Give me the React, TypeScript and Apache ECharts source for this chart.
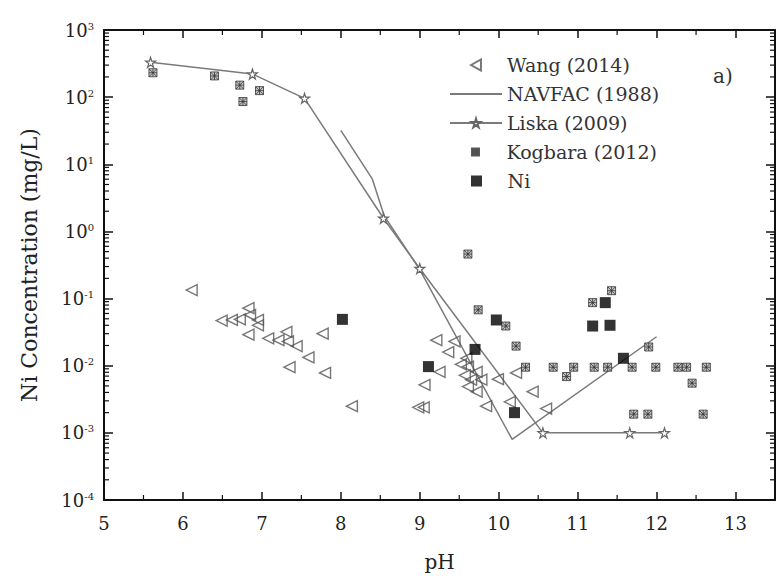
import React, { useEffect, useRef } from "react";
import * as echarts from "echarts";

const wangPH = [6.11, 6.49, 6.62, 6.72, 6.83, 6.85, 6.95, 6.95, 6.83, 7.08, 7.21, 7.31, 7.33, 7.44, 7.59, 7.35, 7.77, 7.8, 8.14, 8.98, 9.05, 9.06, 9.21, 9.25, 9.36, 9.44, 9.59, 9.61, 9.57, 9.72, 9.61, 9.72, 9.78, 9.84, 9.99, 10.14, 10.22, 10.43, 10.6, 9.65, 9.52];
const wangConc = [0.134, 0.047, 0.048, 0.049, 0.072, 0.057, 0.048, 0.04, 0.029, 0.0256, 0.024, 0.032, 0.023, 0.0196, 0.0133, 0.0095, 0.03, 0.0078, 0.0025, 0.0024, 0.0024, 0.0052, 0.024, 0.0081, 0.016, 0.023, 0.0129, 0.0097, 0.0072, 0.0081, 0.0049, 0.0041, 0.0062, 0.0025, 0.0063, 0.0029, 0.0078, 0.0041, 0.0023, 0.0062, 0.0105];

const navfacPH = [8.0, 8.4, 8.55, 9.0, 10.17, 12.0];
const navfacConc = [32, 6, 1.7, 0.27, 0.0008, 0.027];

const liskaPH = [5.59, 6.88, 7.54, 8.54, 9.0, 10.56, 11.66, 12.1];
const liskaConc = [330, 221, 96, 1.57, 0.28, 0.001, 0.001, 0.001];

const kogPH = [5.62, 6.4, 6.72, 6.97, 6.76, 9.61, 9.74, 10.09, 10.22, 10.34, 10.69, 10.95, 10.86, 11.21, 11.38, 11.69, 11.99, 12.27, 12.38, 12.63, 12.45, 11.19, 11.43, 11.9, 11.71, 11.89, 12.59];
const kogConc = [231, 207, 151, 125, 86, 0.46, 0.068, 0.039, 0.0196, 0.0095, 0.0095, 0.0095, 0.0069, 0.0095, 0.0095, 0.0095, 0.0095, 0.0095, 0.0095, 0.0095, 0.0055, 0.087, 0.131, 0.019, 0.0019, 0.0019, 0.0019];

const niPH = [8.02, 9.11, 9.7, 9.97, 10.2, 11.19, 11.41, 11.35, 11.58];
const niConc = [0.049, 0.0097, 0.0175, 0.048, 0.002, 0.039, 0.04, 0.087, 0.0129];

const xMin = 5;
const xMax = 13.5;
const yMin = 1e-4;
const yMax = 1e3;
const xMinorTicks = [5.5, 6.5, 7.5, 8.5, 9.5, 10.5, 11.5, 12.5];
const yDecades = [-4, -3, -2, -1, 0, 1, 2];
const yMinorMult = [2, 3, 4, 5, 6, 7, 8, 9];

const FONT = "DejaVu Serif";
const STAR = "path://M50,0 L61,35 L98,35 L68,57 L79,91 L50,70 L21,91 L32,57 L2,35 L39,35 Z";
const KOG = "path://M0,0 L10,0 L10,10 L0,10 Z M0,0 L10,10 M10,0 L0,10 M5,0 L5,10 M0,5 L10,5";
const TRI_LEFT = "path://M0,5 L9,0 L9,10 Z";
const SQUARE = "path://M0,0 L10,0 L10,10 L0,10 Z";

const zip = (a: number[], b: number[]) => a.map((v, i) => [v, b[i]]);

export default function App() {
  const ref = useRef<HTMLDivElement>(null);
  useEffect(() => {
    if (!ref.current) return;
    const chart = echarts.init(ref.current, null, { renderer: "svg" });
    const minorData: number[][] = [];
    yDecades.forEach((e) => yMinorMult.forEach((m) => minorData.push([xMin, m * Math.pow(10, e), 0])));
    xMinorTicks.forEach((x) => minorData.push([x, 1, 1]));

    const axisLine = { show: true, lineStyle: { color: "#111", width: 2 } };
    const legendBase = {
      orient: "vertical",
      padding: 0,
      itemWidth: 52,
      itemGap: 9,
      textStyle: { fontFamily: FONT, fontSize: 19, color: "#333", lineHeight: 20 },
      selectedMode: false,
    };
    chart.setOption({
      animation: false,
      backgroundColor: "#fff",
      grid: { left: 104, right: 7, top: 30, bottom: 79 },
      legend: [
        {
          ...legendBase,
          left: 449,
          top: 55,
          itemHeight: 11,
          data: [
            { name: "Wang (2014)", icon: TRI_LEFT },
            { name: "NAVFAC (1988)", itemStyle: { opacity: 0 } },
            { name: "Liska (2009)" },
          ],
        },
        {
          ...legendBase,
          left: 471,
          top: 142,
          itemHeight: 7,
          data: [{ name: "Kogbara (2012)", icon: KOG }],
        },
        {
          ...legendBase,
          left: 471,
          top: 171,
          itemHeight: 11,
          data: [{ name: "Ni", icon: SQUARE }],
        },
      ],
      xAxis: [
        {
          type: "value",
          min: xMin,
          max: xMax,
          interval: 1,
          name: "pH",
          nameLocation: "middle",
          nameGap: 52,
          nameTextStyle: { fontFamily: FONT, fontSize: 20, color: "#222" },
          axisLine,
          axisTick: { show: true, inside: true, length: 8, lineStyle: { color: "#111", width: 1.5 } },
          axisLabel: {
            fontFamily: FONT,
            fontSize: 18,
            color: "#222",
            margin: 14,
            formatter: (v: number) => (Math.abs(v - Math.round(v)) < 1e-6 ? String(v) : ""),
          },
          splitLine: { show: false },
        },
        {
          type: "value",
          position: "top",
          min: xMin,
          max: xMax,
          interval: 1,
          axisLine,
          axisTick: { show: true, inside: true, length: 8, lineStyle: { color: "#111", width: 1.5 } },
          axisLabel: { show: false },
          splitLine: { show: false },
        },
      ],
      yAxis: [
        {
          type: "log",
          logBase: 10,
          min: yMin,
          max: yMax,
          interval: 1,
          name: "Ni Concentration (mg/L)",
          nameLocation: "middle",
          nameGap: 64,
          nameRotate: 90,
          nameTextStyle: { fontFamily: FONT, fontSize: 22, color: "#222" },
          axisLine,
          axisTick: { show: true, inside: true, length: 9, lineStyle: { color: "#111", width: 1.5 } },
          axisLabel: {
            margin: 10,
            formatter: (v: number) => `{b|10}{s|${Math.round(Math.log10(v))}}`,
            rich: {
              b: { fontFamily: FONT, fontSize: 18, color: "#222" },
              s: { fontFamily: FONT, fontSize: 10, color: "#222", verticalAlign: "top" },
            },
          },
          splitLine: { show: false },
        },
        {
          type: "log",
          logBase: 10,
          position: "right",
          min: yMin,
          max: yMax,
          interval: 1,
          axisLine,
          axisTick: { show: true, inside: true, length: 9, lineStyle: { color: "#111", width: 1.5 } },
          axisLabel: { show: false },
          splitLine: { show: false },
        },
      ],
      graphic: [
        {
          type: "text",
          left: 713,
          top: 66,
          style: { text: "a)", fontFamily: FONT, fontSize: 20, fill: "#333" },
        },
      ],
      series: [
        {
          type: "custom",
          silent: true,
          xAxisIndex: 0,
          yAxisIndex: 0,
          data: minorData,
          renderItem: (params: any, api: any) => {
            const kind = api.value(2);
            const v = api.value(kind === 0 ? 1 : 0);
            const style = { stroke: "#111", lineWidth: 1.2 };
            if (kind === 0) {
              const l = api.coord([xMin, v]);
              const r = api.coord([xMax, v]);
              return {
                type: "group",
                children: [
                  { type: "line", shape: { x1: l[0], y1: l[1], x2: l[0] + 5, y2: l[1] }, style },
                  { type: "line", shape: { x1: r[0] - 5, y1: r[1], x2: r[0], y2: r[1] }, style },
                ],
              };
            }
            const b = api.coord([v, yMin]);
            const t = api.coord([v, yMax]);
            return {
              type: "group",
              children: [
                { type: "line", shape: { x1: b[0], y1: b[1], x2: b[0], y2: b[1] - 5 }, style },
                { type: "line", shape: { x1: t[0], y1: t[1], x2: t[0], y2: t[1] + 5 }, style },
              ],
            };
          },
          z: 1,
        },
        {
          name: "NAVFAC (1988)",
          type: "line",
          data: zip(navfacPH, navfacConc),
          showSymbol: false,
          symbol: "none",
          lineStyle: { color: "#7a7a7a", width: 1.5 },
          itemStyle: { color: "#7a7a7a" },
          z: 2,
        },
        {
          name: "Liska (2009)",
          type: "line",
          data: zip(liskaPH, liskaConc),
          symbol: STAR,
          symbolSize: 10,
          lineStyle: { color: "#7a7a7a", width: 1.5 },
          itemStyle: { color: "#fff", borderColor: "#666", borderWidth: 1.2 },
          z: 3,
        },
        {
          name: "Wang (2014)",
          type: "scatter",
          data: zip(wangPH, wangConc),
          symbol: "triangle",
          symbolRotate: 90,
          symbolSize: 11,
          itemStyle: { color: "rgba(255,255,255,0)", borderColor: "#555", borderWidth: 1.4 },
          z: 4,
        },
        {
          name: "Kogbara (2012)",
          type: "scatter",
          data: zip(kogPH, kogConc),
          symbol: KOG,
          symbolSize: 8,
          itemStyle: { color: "#bdbdbd", borderColor: "#333", borderWidth: 1 },
          z: 5,
        },
        {
          name: "Ni",
          type: "scatter",
          data: zip(niPH, niConc),
          symbol: "rect",
          symbolSize: 11,
          itemStyle: { color: "#000" },
          z: 6,
        },
      ],
    });
    return () => chart.dispose();
  }, []);
  return <div ref={ref} style={{ width: 782, height: 579, position: "absolute", left: 0, top: 0 }} />;
}
